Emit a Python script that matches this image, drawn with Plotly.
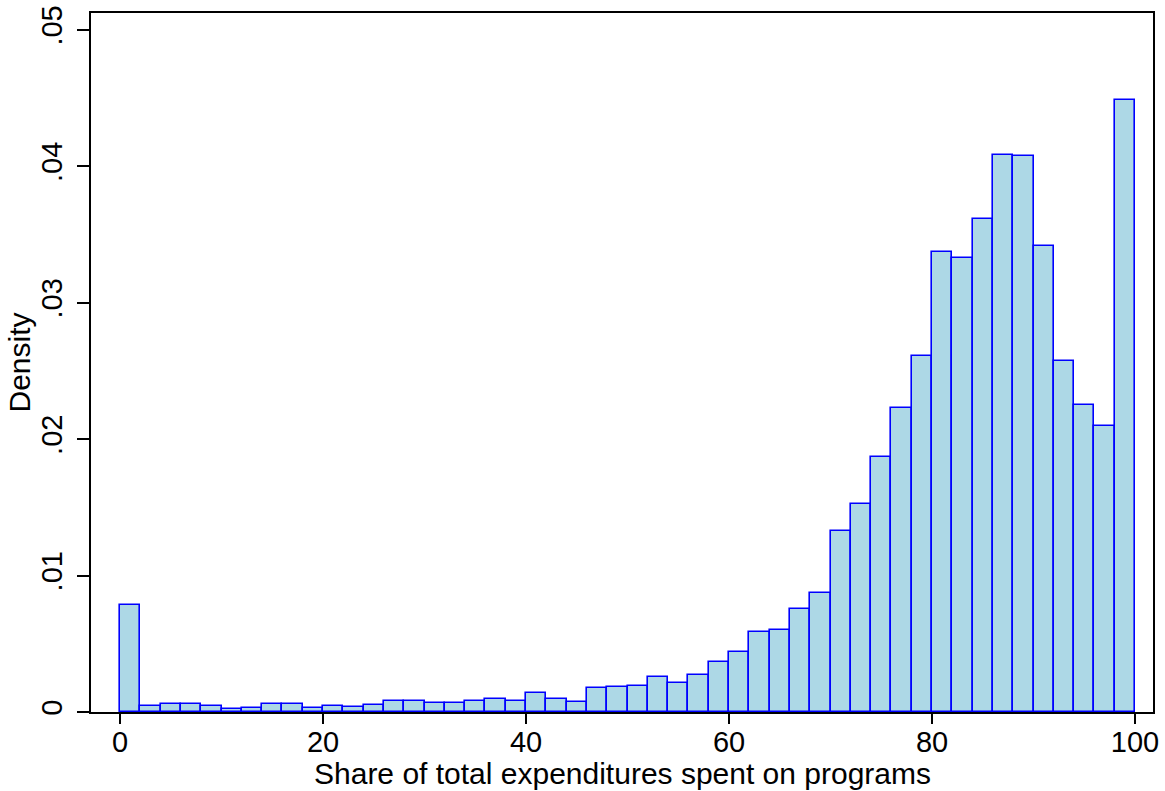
import plotly.graph_objects as go

# Histogram bins (left edges, width 2) and density values
bin_left = [0, 2, 4, 6, 8, 10, 12, 14, 16, 18,
            20, 22, 24, 26, 28, 30, 32, 34, 36, 38,
            40, 42, 44, 46, 48, 50, 52, 54, 56, 58,
            60, 62, 64, 66, 68, 70, 72, 74, 76, 78,
            80, 82, 84, 86, 88, 90, 92, 94, 96, 98]
bin_width = 2
density = [0.00786, 0.00041, 0.00061, 0.00061, 0.00041, 0.00022, 0.00032, 0.00056, 0.00056, 0.00030,
           0.00046, 0.00038, 0.00050, 0.00080, 0.00082, 0.00066, 0.00068, 0.00084, 0.00092, 0.00082,
           0.00140, 0.00094, 0.00070, 0.00177, 0.00181, 0.00188, 0.00254, 0.00215, 0.00273, 0.00370,
           0.00440, 0.00590, 0.00601, 0.00755, 0.00875, 0.01323, 0.01528, 0.01872, 0.02230, 0.02610,
           0.03375, 0.03325, 0.03615, 0.04080, 0.04075, 0.03415, 0.02575, 0.02250, 0.02095, 0.04485]

x_ticks = [0, 20, 40, 60, 80, 100]
y_ticks = [0, 0.01, 0.02, 0.03, 0.04, 0.05]
y_tick_text = ["0", ".01", ".02", ".03", ".04", ".05"]
x_title = "Share of total expenditures spent on programs"
y_title = "Density"

centers = [b + bin_width / 2 for b in bin_left]

FONT = "Liberation Sans, Arial, sans-serif"
FS = 30
TFS = 29

fig = go.Figure(go.Bar(
    x=centers, y=density, width=[bin_width] * len(centers),
    marker=dict(color="#ADD8E6", line=dict(color="#0000FF", width=1.6)),
    hoverinfo="x+y",
))

fig.update_layout(
    width=1165, height=791,
    margin=dict(l=91, r=12, t=5, b=79),
    paper_bgcolor="white", plot_bgcolor="white",
    font=dict(family=FONT, size=FS, color="black"),
    showlegend=False,
    bargap=0,
    xaxis=dict(
        range=[-2.86, 101.77],
        tickvals=x_ticks,
        ticks="outside", ticklen=10, tickwidth=1.5, tickcolor="black",
        showline=True, linecolor="black", linewidth=2, mirror=True,
        showgrid=False, zeroline=False,
        tickfont=dict(size=TFS),
        ticklabeloverflow="allow",
        ticklabelstandoff=-7,
    ),
    yaxis=dict(
        range=[0, 0.05123],
        tickvals=y_ticks, ticktext=y_tick_text,
        tickangle=-90,
        ticks="outside", ticklen=12, tickwidth=1.5, tickcolor="black",
        showline=True, linecolor="black", linewidth=2, mirror=True,
        showgrid=False, zeroline=False,
        tickfont=dict(size=TFS),
        ticklabeloverflow="allow",
        ticklabelstandoff=3,
    ),
    annotations=[
        dict(text=x_title, xref="paper", yref="paper", x=0.5, y=(712 - 792) / 707,
             xanchor="center", yanchor="bottom", showarrow=False, borderpad=0,
             font=dict(family=FONT, size=FS, color="black")),
        dict(text=y_title, xref="paper", yref="paper", x=(19 - 91) / 1062, y=0.5,
             xanchor="center", yanchor="middle", textangle=-90, showarrow=False,
             font=dict(family=FONT, size=FS, color="black")),
    ],
)

fig.write_html("out.html")
